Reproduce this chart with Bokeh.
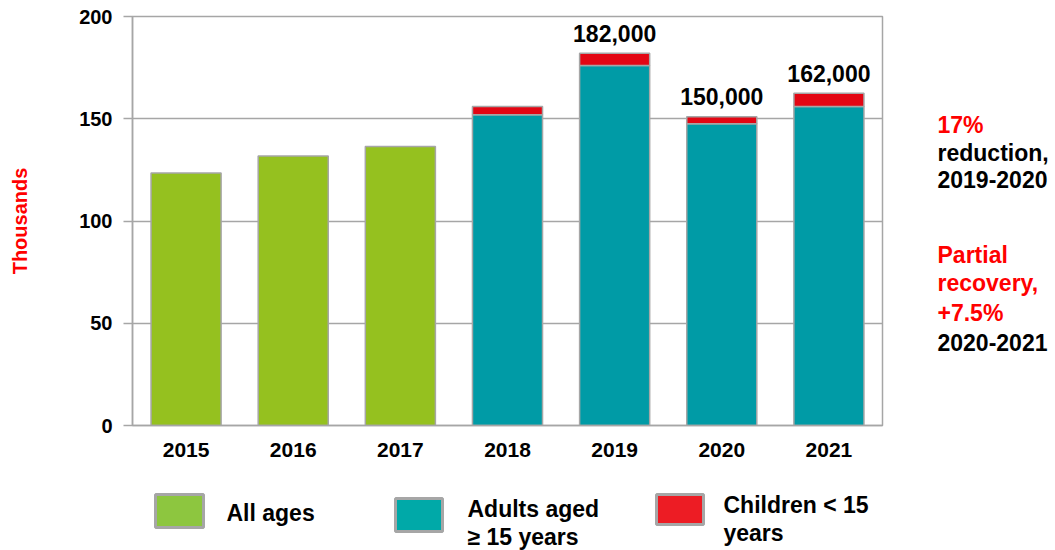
from bokeh.plotting import figure
from bokeh.models import Range1d, FactorRange, FixedTicker
from bokeh.layouts import column, row
from bokeh.embed import file_html
from bokeh.resources import INLINE
from bokeh.core.properties import value

# ---------------- data ----------------
years = ["2015", "2016", "2017", "2018", "2019", "2020", "2021"]
all_ages_years = ["2015", "2016", "2017"]
all_ages = [123.5, 131.8, 136.4]
split_years = ["2018", "2019", "2020", "2021"]
adults = [152, 176, 147.5, 156]
children = [4, 6, 3.5, 6.5]
label_years = ["2019", "2020", "2021"]
label_texts = ["182,000", "150,000", "162,000"]
y_ticks = [0, 50, 100, 150, 200]

side_lines = ["17%", "reduction,", "2019-2020", "Partial", "recovery,", "+7.5%", "2020-2021"]
legend_names = ["All ages", "Adults aged\n\u2265 15 years", "Children < 15\nyears"]

# ---------------- style ----------------
FONT = "Liberation Sans"
GREEN, TEAL, RED = "#95C11F", "#009BA6", "#E30613"
LEG_GREEN, LEG_TEAL, LEG_RED = "#8DC63F", "#00A9A8", "#ED1C24"
GRAY = "#A6A6A6"
BRIGHT_RED = "#FF0000"
BAR_W = 0.654

totals = [a + c for a, c in zip(adults, children)]
label_tops = [totals[split_years.index(y)] for y in label_years]

# ---------------- main chart ----------------
p = figure(width=898, height=470, x_range=FactorRange(*years), y_range=Range1d(0, 200),
           output_backend="svg", toolbar_location=None,
           min_border_left=132, min_border_right=16, min_border_top=16, min_border_bottom=45)
p.background_fill_color = "white"
p.border_fill_color = "white"
p.outline_line_color = GRAY
p.outline_line_width = 1.5

p.vbar(x=all_ages_years, top=all_ages, width=BAR_W, fill_color=GREEN,
       line_color=GRAY, line_width=1.5)
p.vbar(x=split_years, bottom=0, top=adults, width=BAR_W, fill_color=TEAL,
       line_color=GRAY, line_width=1.5)
p.vbar(x=split_years, bottom=adults, top=totals, width=BAR_W, fill_color=RED,
       line_color=GRAY, line_width=1.5)
p.text(x=label_years, y=label_tops, text=label_texts, text_align="center",
       text_baseline="middle", y_offset=-20, text_font=value(FONT),
       text_font_style="bold", text_font_size="23px", text_color="black")

p.xgrid.visible = False
p.ygrid.ticker = FixedTicker(ticks=y_ticks)
p.ygrid.grid_line_color = GRAY
p.ygrid.grid_line_width = 1.5

yax = p.yaxis[0]
yax.ticker = FixedTicker(ticks=y_ticks)
yax.axis_line_color = GRAY
yax.axis_line_width = 1.5
yax.major_tick_line_color = GRAY
yax.major_tick_line_width = 1.5
yax.major_tick_out = 9
yax.major_tick_in = 0
yax.minor_tick_line_color = None
yax.major_label_standoff = 11
yax.major_label_text_font = FONT
yax.major_label_text_font_style = "bold"
yax.major_label_text_font_size = "20px"
yax.major_label_text_color = "black"
yax.axis_label = "Thousands"
yax.axis_label_text_font = FONT
yax.axis_label_text_font_style = "bold"
yax.axis_label_text_font_size = "20px"
yax.axis_label_text_color = BRIGHT_RED
yax.axis_label_standoff = 45

xax = p.xaxis[0]
xax.axis_line_color = GRAY
xax.axis_line_width = 1.5
xax.major_tick_line_color = None
xax.major_tick_out = 0
xax.major_tick_in = 0
xax.major_label_standoff = 17
xax.major_label_text_font = FONT
xax.major_label_text_font_style = "bold"
xax.major_label_text_font_size = "21px"
xax.major_label_text_color = "black"

# ---------------- right-hand notes ----------------
# The row aligns this panel's frame with the main frame (page y 16..425),
# so the range is set in page pixels over that span.
s = figure(width=157, height=470, x_range=Range1d(0, 157), y_range=Range1d(425, 16),
           output_backend="svg", toolbar_location=None, min_border=0,
           x_axis_location=None, y_axis_location=None)
s.grid.visible = False
s.outline_line_color = None
s.background_fill_color = "white"
s.border_fill_color = "white"
side_colors = [BRIGHT_RED, "black", "black", BRIGHT_RED, BRIGHT_RED, BRIGHT_RED, "black"]
side_y = [124, 152, 179, 254, 282, 312, 342]
s.text(x=[39] * len(side_lines), y=side_y, text=side_lines, text_color=side_colors,
       text_align="left", text_baseline="middle", text_font=value(FONT),
       text_font_style="bold", text_font_size="23px")

# ---------------- legend ----------------
lg = figure(width=1055, height=80, x_range=Range1d(0, 1055), y_range=Range1d(80, 0),
            output_backend="svg", toolbar_location=None, min_border=0,
            x_axis_location=None, y_axis_location=None)
lg.grid.visible = False
lg.outline_line_color = None
lg.background_fill_color = "white"
lg.border_fill_color = "white"
lg.quad(left=[155, 395, 656], right=[203, 442, 703], top=[24, 28, 24], bottom=[57, 61, 54],
        fill_color=[LEG_GREEN, LEG_TEAL, LEG_RED], line_color=GRAY, line_width=3)
leg_lines = []
leg_x = []
leg_y = []
first_center = [42, 38, 34]
for name, x0, c0 in zip(legend_names, [226, 467, 723], first_center):
    for k, line in enumerate(name.split("\n")):
        leg_lines.append(line)
        leg_x.append(x0)
        leg_y.append(c0 + 28 * k)
lg.text(x=leg_x, y=leg_y, text=leg_lines, text_align="left", text_baseline="middle",
        text_font=value(FONT), text_font_style="bold", text_font_size="23px",
        text_color="black")

layout = column(row(p, s), lg)
open("out.html", "w").write(file_html(layout, INLINE))
